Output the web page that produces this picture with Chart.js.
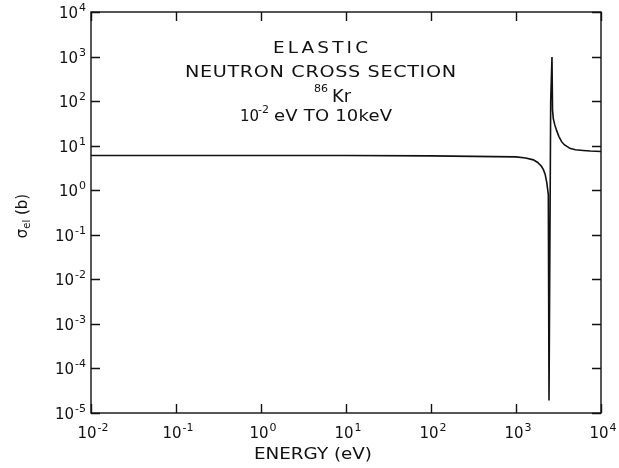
<!DOCTYPE html>
<html>
<head>
<meta charset="utf-8">
<script src="https://cdn.jsdelivr.net/npm/chart.js@4/dist/chart.umd.min.js"></script>
<style>
  html, body { margin: 0; padding: 0; background: #fff; }
  #wrap { width: 619px; height: 468px; }
</style>
</head>
<body>
<div id="wrap"><canvas id="xs" width="619" height="468"></canvas></div>
<script>
// energy (eV) and elastic cross section (b)
const energy = [0.01, 0.1, 1, 10, 100, 1000, 1300, 1600, 1800, 2000, 2100, 2200, 2300, 2400, 2445,
                2560, 2650, 2690, 2750, 2850, 3000, 3200, 3440, 3700, 4300, 5000, 6200, 7500, 10000];
const sigma  = [6.0, 6.0, 6.0, 6.0, 5.9, 5.6, 5.3, 4.8, 4.2, 3.4, 2.9, 2.3, 1.5, 0.8, 1.9e-5,
                100, 980, 63, 40, 30, 22, 16, 12.3, 10.5, 8.7, 8.1, 7.8, 7.6, 7.4];

const xTickValues = [1e-2, 1e-1, 1e0, 1e1, 1e2, 1e3, 1e4];
const xTickExp    = ["-2", "-1", "0", "1", "2", "3", "4"];
const yTickValues = [1e-5, 1e-4, 1e-3, 1e-2, 1e-1, 1e0, 1e1, 1e2, 1e3, 1e4];
const yTickExp    = ["-5", "-4", "-3", "-2", "-1", "0", "1", "2", "3", "4"];

const FONT = "'DejaVu Sans', sans-serif";

function powWidth(ctx, exp) {
  ctx.font = "15px " + FONT;
  const w1 = ctx.measureText("10").width;
  ctx.font = "11px " + FONT;
  return w1 + 1 + ctx.measureText(exp).width;
}

// "10" with a raised exponent, x is the left edge, y the baseline
function drawPow(ctx, exp, x, y) {
  ctx.textAlign = "left";
  ctx.font = "15px " + FONT;
  ctx.fillText("10", x, y);
  const w1 = ctx.measureText("10").width;
  ctx.font = "11px " + FONT;
  ctx.fillText(exp, x + w1 + 1, y - 7);
}

// text from left edge x, widened to a given width: first stretched, then spaced
function wide(ctx, text, x, y, size, width, maxStretch) {
  ctx.font = size + "px " + FONT;
  ctx.letterSpacing = "0px";
  const w = ctx.measureText(text).width;
  const k = Math.min(width / w, maxStretch || 1.2);
  const sp = (width / k - w) / Math.max(text.length - 1, 1);
  ctx.save();
  ctx.translate(x, y);
  ctx.scale(k, 1);
  ctx.letterSpacing = sp + "px";
  ctx.textAlign = "left";
  ctx.fillText(text, 0, 0);
  ctx.restore();
}

const frameTicks = {
  id: "frameTicks",
  afterDraw(chart) {
    const ctx = chart.ctx, a = chart.chartArea;
    const xs = chart.scales.x, ys = chart.scales.y;
    const len = 9;
    ctx.save();
    ctx.strokeStyle = "#111";
    ctx.fillStyle = "#111";
    ctx.lineWidth = 1.4;
    ctx.strokeRect(a.left, a.top, a.right - a.left, a.bottom - a.top);
    ctx.beginPath();
    xTickValues.forEach(v => {
      const px = Math.round(xs.getPixelForValue(v)) + 0.5;
      ctx.moveTo(px, a.bottom); ctx.lineTo(px, a.bottom - len);
      ctx.moveTo(px, a.top); ctx.lineTo(px, a.top + len);
    });
    yTickValues.forEach(v => {
      const py = Math.round(ys.getPixelForValue(v)) + 0.5;
      ctx.moveTo(a.left, py); ctx.lineTo(a.left + len, py);
      ctx.moveTo(a.right, py); ctx.lineTo(a.right - len, py);
    });
    ctx.stroke();

    // tick labels
    ctx.textBaseline = "alphabetic";
    xTickValues.forEach((v, i) => {
      const px = xs.getPixelForValue(v);
      const w = powWidth(ctx, xTickExp[i]);
      drawPow(ctx, xTickExp[i], px - w / 2 + 2, a.bottom + 25);
    });
    yTickValues.forEach((v, i) => {
      const py = ys.getPixelForValue(v);
      const w = powWidth(ctx, yTickExp[i]);
      drawPow(ctx, yTickExp[i], a.left - 5 - w, py + 6);
    });

    // axis titles
    wide(ctx, "ENERGY (eV)", 254, 459, 16, 118);
    ctx.save();
    ctx.translate(27, 216);
    ctx.rotate(-Math.PI / 2);
    ctx.textAlign = "left";
    ctx.font = "15px " + FONT;
    const sw = ctx.measureText("σ").width;
    ctx.font = "10px " + FONT;
    const ew = ctx.measureText("el").width;
    ctx.font = "15px " + FONT;
    const bw = ctx.measureText(" (b)").width;
    let x0 = -(sw + ew + bw) / 2;
    ctx.fillText("σ", x0, 0);
    ctx.font = "10px " + FONT;
    ctx.fillText("el", x0 + sw, 3);
    ctx.font = "15px " + FONT;
    ctx.fillText(" (b)", x0 + sw + ew, 0);
    ctx.restore();

    // label block
    wide(ctx, "ELASTIC", 273, 53, 16, 95, 1.15);
    wide(ctx, "NEUTRON CROSS SECTION", 185, 77, 16, 271);
    ctx.font = "11px " + FONT;
    ctx.textAlign = "left";
    ctx.fillText("86", 314, 92);
    wide(ctx, "Kr", 332, 102, 18, 19);
    ctx.font = "15px " + FONT;
    ctx.fillText("10", 240, 121);
    ctx.font = "11px " + FONT;
    ctx.fillText("-2", 258, 113);
    wide(ctx, "eV TO 10keV", 274, 121, 15, 118);
    ctx.restore();
  }
};

new Chart(document.getElementById("xs"), {
  type: "scatter",
  data: {
    datasets: [{
      data: energy.map((e, i) => ({ x: e, y: sigma[i] })),
      showLine: true,
      borderColor: "#111",
      borderWidth: 1.6,
      pointRadius: 0,
      tension: 0
    }]
  },
  options: {
    responsive: false,
    animation: false,
    layout: { padding: { left: 0, top: 12, right: 18, bottom: 0 } },
    plugins: { legend: { display: false }, tooltip: { enabled: false } },
    scales: {
      x: {
        type: "logarithmic",
        min: 1e-2, max: 1e4,
        afterBuildTicks: s => { s.ticks = xTickValues.map(v => ({ value: v })); },
        afterFit: s => { s.height = 55; },
        grid: { display: false, drawTicks: false },
        border: { display: false },
        ticks: { display: false }
      },
      y: {
        type: "logarithmic",
        min: 1e-5, max: 1e4,
        afterBuildTicks: s => { s.ticks = yTickValues.map(v => ({ value: v })); },
        afterFit: s => { s.width = 91; },
        grid: { display: false, drawTicks: false },
        border: { display: false },
        ticks: { display: false }
      }
    }
  },
  plugins: [frameTicks]
});
</script>
</body>
</html>
